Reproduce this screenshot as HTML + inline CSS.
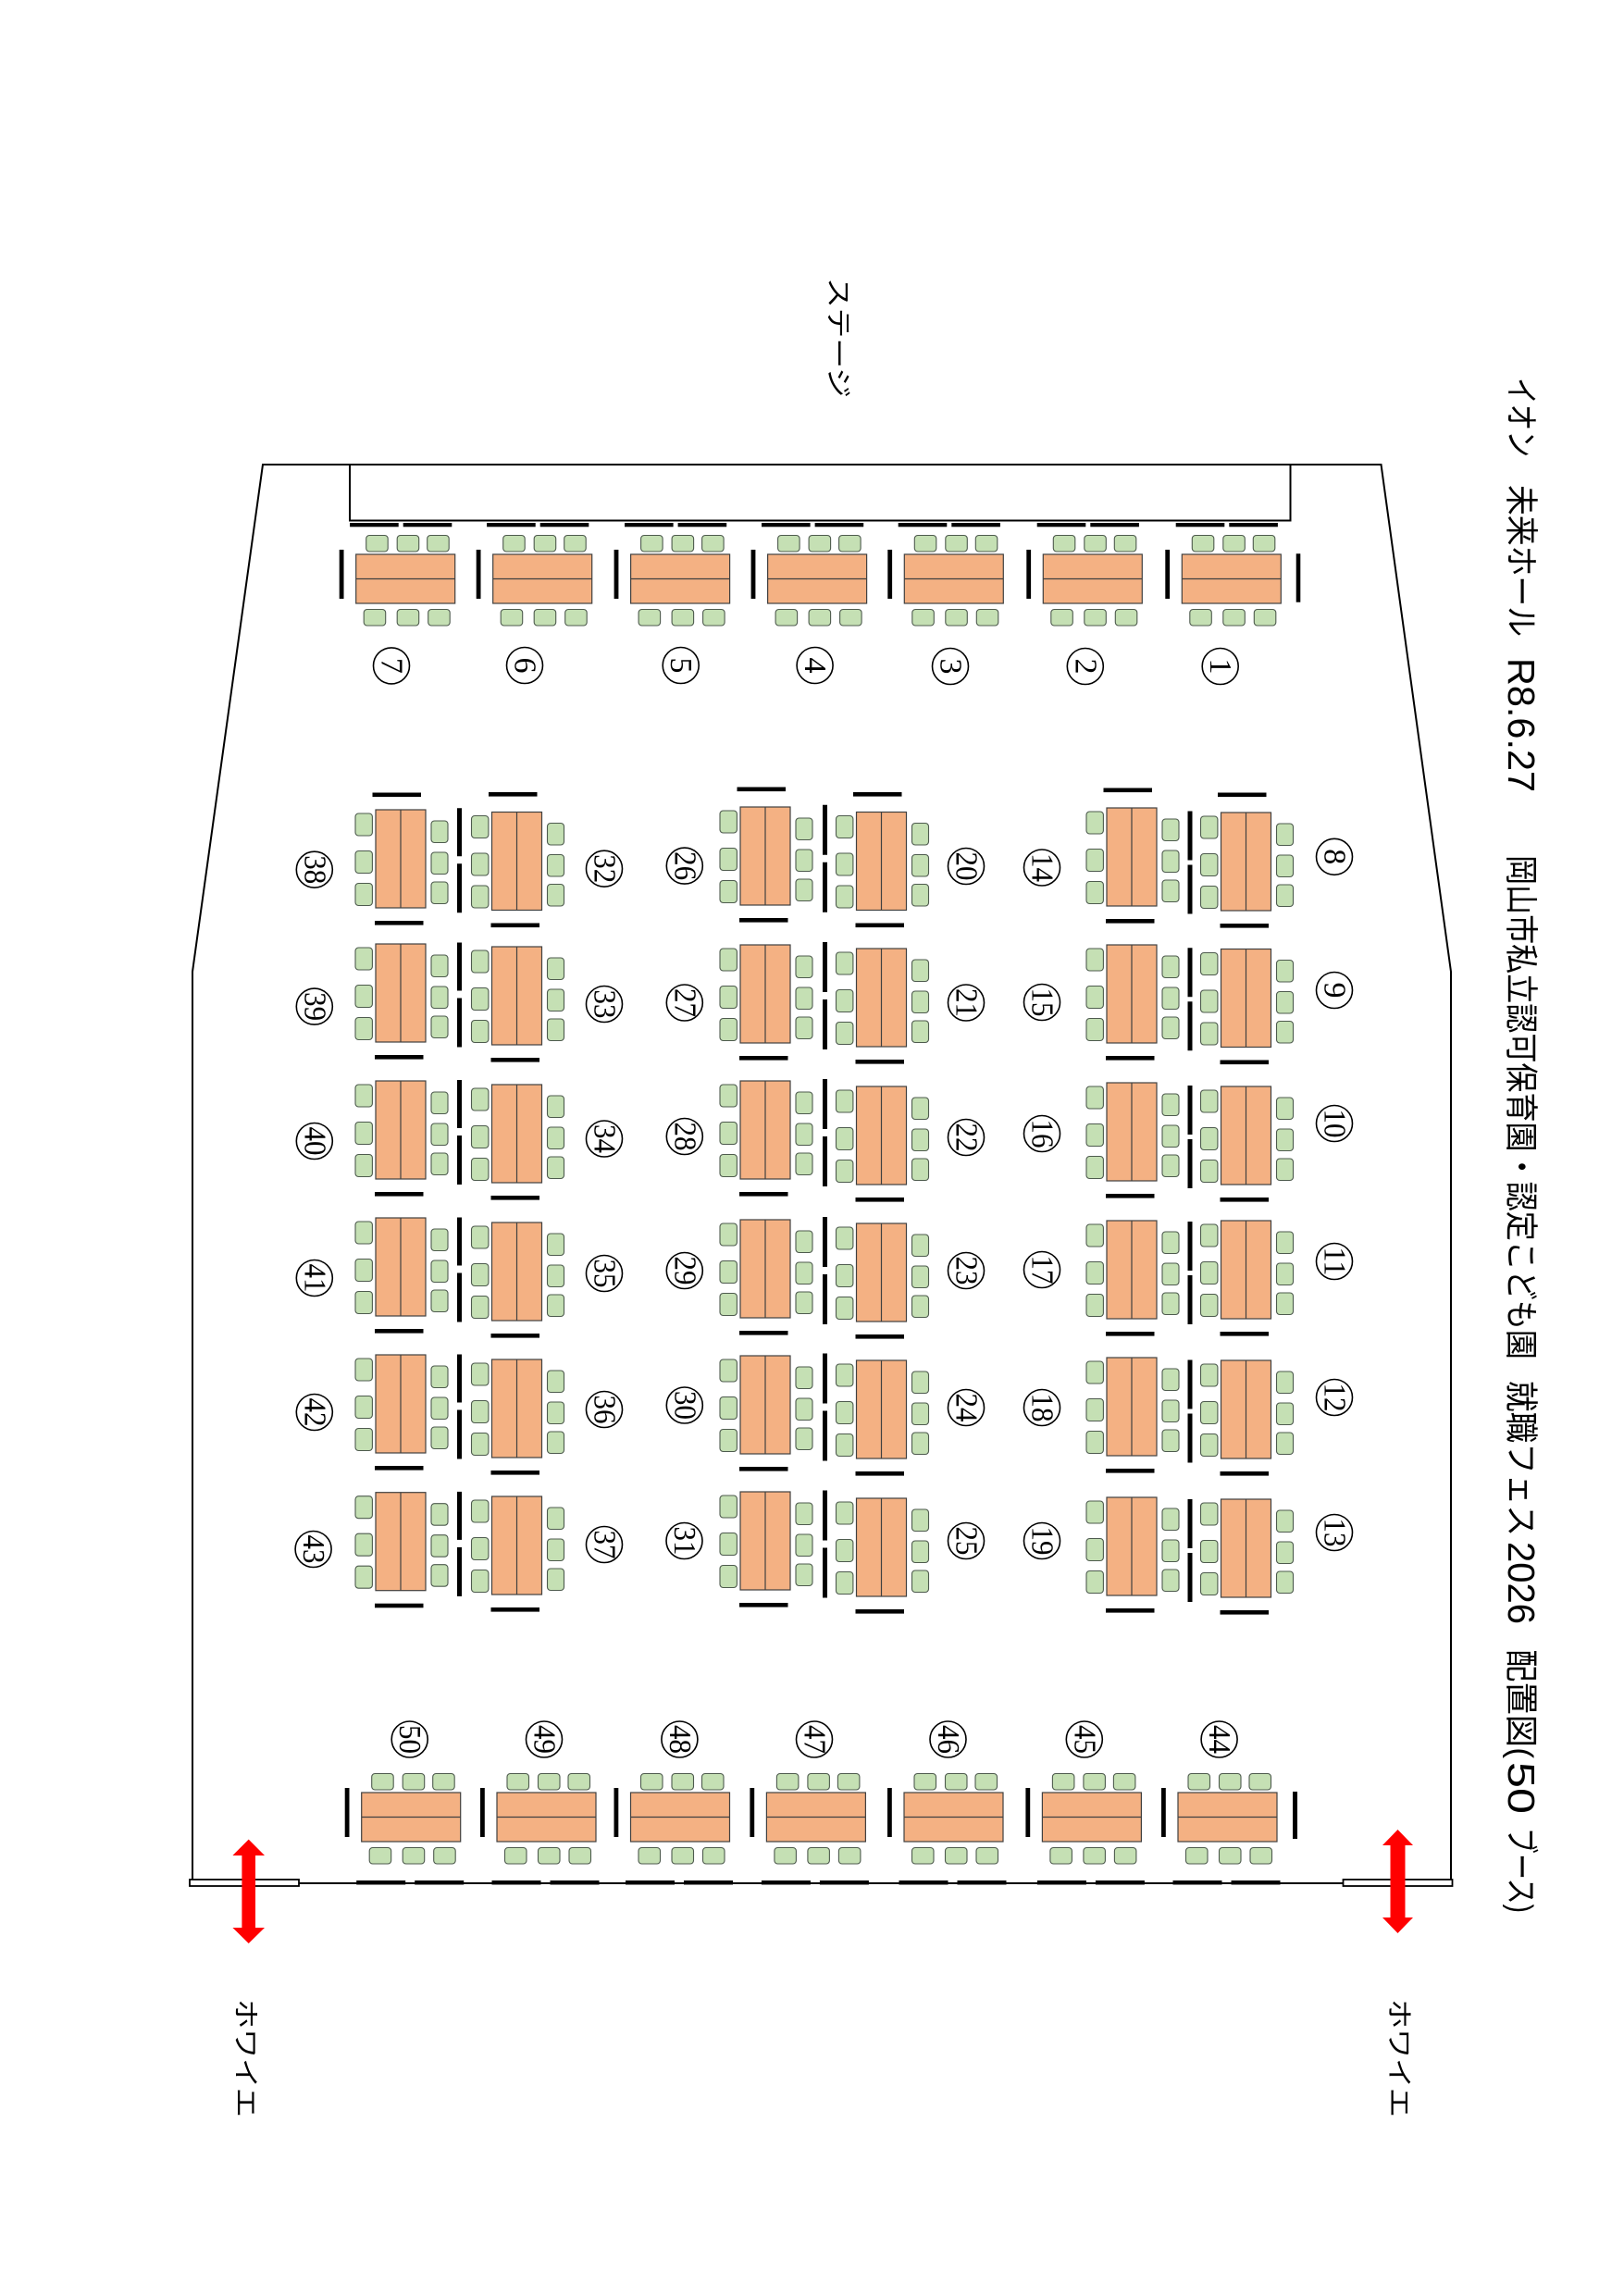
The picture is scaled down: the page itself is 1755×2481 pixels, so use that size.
<!DOCTYPE html>
<html>
<head>
<meta charset="utf-8">
<style>
html,body{margin:0;padding:0;background:#fff;}
svg{display:block;}
.t{fill:#f4b183;stroke:#404040;stroke-width:1.2;}
.d{stroke:#404040;stroke-width:1.2;}
.c{fill:#c5e0b4;stroke:#4e5b4e;stroke-width:1.1;}
.w{fill:none;stroke:#000;stroke-width:2;}
.cn{fill:#fff;stroke:#000;stroke-width:1.6;}
.nt{font-family:"Liberation Serif",serif;font-size:34px;text-anchor:middle;dominant-baseline:central;fill:#000;}
.tt{font-family:"Liberation Sans","Noto Sans CJK JP",sans-serif;font-size:36px;dominant-baseline:central;fill:#000;}
.td{font-family:"Liberation Sans","Noto Sans CJK JP",sans-serif;font-size:41px;dominant-baseline:central;fill:#000;}
.lb{font-family:"Liberation Sans","Noto Sans CJK JP",sans-serif;font-size:28px;dominant-baseline:central;fill:#000;}
</style>
</head>
<body>
<svg width="1755" height="2481" viewBox="0 0 1755 2481" xmlns="http://www.w3.org/2000/svg">
<defs>
<g id="hb">
<rect class="t" x="0" y="0" width="107" height="53"/>
<line class="d" x1="0" y1="26.5" x2="107" y2="26.5"/>
<rect class="c" x="11" y="-20.5" width="23.5" height="17.5" rx="3.5"/>
<rect class="c" x="44.5" y="-20.5" width="23.5" height="17.5" rx="3.5"/>
<rect class="c" x="77" y="-20.5" width="23.5" height="17.5" rx="3.5"/>
<rect class="c" x="8.5" y="59.5" width="23.5" height="17.5" rx="3.5"/>
<rect class="c" x="44.5" y="59.5" width="23.5" height="17.5" rx="3.5"/>
<rect class="c" x="78" y="59.5" width="23.5" height="17.5" rx="3.5"/>
<rect x="-18" y="-5" width="4.8" height="53" fill="#000"/>
</g>
<g id="vb">
<rect class="t" x="0" y="0" width="54" height="106"/>
<line class="d" x1="27" y1="0" x2="27" y2="106"/>
<rect class="c" x="-22" y="4" width="18.4" height="24" rx="3.5"/>
<rect class="c" x="-22" y="44.5" width="18.4" height="24" rx="3.5"/>
<rect class="c" x="-22" y="79.5" width="18.4" height="24" rx="3.5"/>
<rect class="c" x="60" y="12" width="18" height="23.5" rx="3.5"/>
<rect class="c" x="60" y="46" width="18" height="23.5" rx="3.5"/>
<rect class="c" x="60" y="78" width="18" height="23.5" rx="3.5"/>
<rect x="-1" y="120" width="52.5" height="4.6" fill="#000"/>
</g>
</defs>

<!-- Hall outline -->
<polyline class="w" points="208,2035 208,1050 284,502 1492.5,502 1568,1050 1568,2035 208,2035"/>
<!-- Stage -->
<polyline class="w" points="378,502 378,562.5 1394.5,562.5 1394.5,502"/>

<!-- Doors -->
<rect x="205" y="2031" width="118" height="7" fill="#fff" stroke="#000" stroke-width="1.8"/>
<rect x="1451.5" y="2031" width="118" height="7" fill="#fff" stroke="#000" stroke-width="1.8"/>

<!-- Arrows -->
<polygon fill="#ff0000" points="1510.5,1977 1527,1994 1518.5,1994 1518.5,2072 1527,2072 1510.5,2089 1494,2072 1502.5,2072 1502.5,1994 1494,1994"/>
<polygon fill="#ff0000" points="268.7,1987.6 286,2005 276,2005 276,2083 286,2083 268.7,2100 251.4,2083 261.4,2083 261.4,2005 251.4,2005"/>

<!-- Top row booths 1-7 -->
<use href="#hb" x="1277.3" y="599"/>
<use href="#hb" x="1127.3" y="599"/>
<use href="#hb" x="977.3" y="599"/>
<use href="#hb" x="829.6" y="599"/>
<use href="#hb" x="681.6" y="599"/>
<use href="#hb" x="532.7" y="599"/>
<use href="#hb" x="384.7" y="599"/>
<rect x="1400.7" y="598.3" width="4.6" height="52.4" fill="#000"/>
<g fill="#000">
<rect x="1270.7" y="565" width="52.6" height="4.3"/><rect x="1328.3" y="565" width="52.6" height="4.3"/>
<rect x="1120.7" y="565" width="52.6" height="4.3"/><rect x="1178.3" y="565" width="52.6" height="4.3"/>
<rect x="970.7" y="565" width="52.6" height="4.3"/><rect x="1028.3" y="565" width="52.6" height="4.3"/>
<rect x="823" y="565" width="52.6" height="4.3"/><rect x="880.6" y="565" width="52.6" height="4.3"/>
<rect x="675" y="565" width="52.6" height="4.3"/><rect x="732.6" y="565" width="52.6" height="4.3"/>
<rect x="526.1" y="565" width="52.6" height="4.3"/><rect x="583.7" y="565" width="52.6" height="4.3"/>
<rect x="378.1" y="565" width="52.6" height="4.3"/><rect x="435.7" y="565" width="52.6" height="4.3"/>
</g>

<!-- Bottom row booths 44-50 -->
<use href="#hb" x="1273" y="1937"/>
<use href="#hb" x="1126.4" y="1937"/>
<use href="#hb" x="977" y="1937"/>
<use href="#hb" x="828.4" y="1937"/>
<use href="#hb" x="681.5" y="1937"/>
<use href="#hb" x="537" y="1937"/>
<use href="#hb" x="390.7" y="1937"/>
<rect x="1397" y="1936" width="5" height="51" fill="#000"/>
<g fill="#000">
<rect x="1267.5" y="2032" width="53" height="4.5"/><rect x="1330.5" y="2032" width="53" height="4.5"/>
<rect x="1120.9" y="2032" width="53" height="4.5"/><rect x="1183.9" y="2032" width="53" height="4.5"/>
<rect x="971.5" y="2032" width="53" height="4.5"/><rect x="1034.5" y="2032" width="53" height="4.5"/>
<rect x="822.9" y="2032" width="53" height="4.5"/><rect x="885.9" y="2032" width="53" height="4.5"/>
<rect x="676" y="2032" width="53" height="4.5"/><rect x="739" y="2032" width="53" height="4.5"/>
<rect x="531.5" y="2032" width="53" height="4.5"/><rect x="594.5" y="2032" width="53" height="4.5"/>
<rect x="385.2" y="2032" width="53" height="4.5"/><rect x="448.2" y="2032" width="53" height="4.5"/>
</g>

<!-- Middle booths -->
<use href="#vb" x="1319.5" y="878"/>
<use href="#vb" x="1319.5" y="1025.5"/>
<use href="#vb" x="1319.5" y="1174"/>
<use href="#vb" x="1319.5" y="1319"/>
<use href="#vb" x="1319.5" y="1470"/>
<use href="#vb" x="1319.5" y="1620"/>

<use href="#vb" x="1196" y="873"/>
<use href="#vb" x="1196" y="1021"/>
<use href="#vb" x="1196" y="1170"/>
<use href="#vb" x="1196" y="1319"/>
<use href="#vb" x="1196" y="1467"/>
<use href="#vb" x="1196" y="1618"/>

<use href="#vb" x="925.5" y="877.5"/>
<use href="#vb" x="925.5" y="1025"/>
<use href="#vb" x="925.5" y="1174"/>
<use href="#vb" x="925.5" y="1322"/>
<use href="#vb" x="925.5" y="1470"/>
<use href="#vb" x="925.5" y="1619"/>

<use href="#vb" x="800" y="872"/>
<use href="#vb" x="800" y="1021"/>
<use href="#vb" x="800" y="1168"/>
<use href="#vb" x="800" y="1318"/>
<use href="#vb" x="800" y="1465"/>
<use href="#vb" x="800" y="1612"/>

<use href="#vb" x="531.5" y="877.5"/>
<use href="#vb" x="531.5" y="1023"/>
<use href="#vb" x="531.5" y="1172"/>
<use href="#vb" x="531.5" y="1321"/>
<use href="#vb" x="531.5" y="1469"/>
<use href="#vb" x="531.5" y="1617"/>

<use href="#vb" x="406" y="875"/>
<use href="#vb" x="406" y="1020"/>
<use href="#vb" x="406" y="1168"/>
<use href="#vb" x="406" y="1316"/>
<use href="#vb" x="406" y="1464"/>
<use href="#vb" x="406" y="1612.7"/>

<!-- Top bars above first row of middle booths -->
<g fill="#000">
<rect x="1316" y="856.5" width="52.5" height="4.6"/>
<rect x="1192.5" y="851.5" width="52.5" height="4.6"/>
<rect x="922" y="856" width="52.5" height="4.6"/>
<rect x="796.5" y="850.5" width="52.5" height="4.6"/>
<rect x="528" y="856" width="52.5" height="4.6"/>
<rect x="402.5" y="856.5" width="52.5" height="4.6"/>
</g>

<!-- Divider bars between paired columns -->
<g fill="#000">
<rect x="494" y="873.25" width="5" height="52"/><rect x="494" y="933.25" width="5" height="53"/>
<rect x="494" y="1018.5" width="5" height="52"/><rect x="494" y="1078.5" width="5" height="53"/>
<rect x="494" y="1167" width="5" height="52"/><rect x="494" y="1227" width="5" height="53"/>
<rect x="494" y="1315.5" width="5" height="52"/><rect x="494" y="1375.5" width="5" height="53"/>
<rect x="494" y="1463.5" width="5" height="52"/><rect x="494" y="1523.5" width="5" height="53"/>
<rect x="494" y="1611.9" width="5" height="52"/><rect x="494" y="1671.9" width="5" height="53"/>

<rect x="889" y="869.75" width="5" height="54"/><rect x="889" y="931.75" width="5" height="54"/>
<rect x="889" y="1018" width="5" height="54"/><rect x="889" y="1080" width="5" height="54"/>
<rect x="889" y="1166" width="5" height="54"/><rect x="889" y="1228" width="5" height="54"/>
<rect x="889" y="1315" width="5" height="54"/><rect x="889" y="1377" width="5" height="54"/>
<rect x="889" y="1462.5" width="5" height="54"/><rect x="889" y="1524.5" width="5" height="54"/>
<rect x="889" y="1610.5" width="5" height="54"/><rect x="889" y="1672.5" width="5" height="54"/>

<rect x="1283.5" y="876.5" width="5" height="53"/><rect x="1283.5" y="934.5" width="5" height="53"/>
<rect x="1283.5" y="1024.25" width="5" height="53"/><rect x="1283.5" y="1082.25" width="5" height="53"/>
<rect x="1283.5" y="1173" width="5" height="53"/><rect x="1283.5" y="1231" width="5" height="53"/>
<rect x="1283.5" y="1320" width="5" height="53"/><rect x="1283.5" y="1378" width="5" height="53"/>
<rect x="1283.5" y="1469.5" width="5" height="53"/><rect x="1283.5" y="1527.5" width="5" height="53"/>
<rect x="1283.5" y="1620" width="5" height="53"/><rect x="1283.5" y="1678" width="5" height="53"/>
</g>

<!-- Number circles -->
<g>
<circle class="cn" cx="1318.7" cy="720" r="19.5"/><text class="nt" x="1318.7" y="720" transform="rotate(90 1318.7 720)">1</text>
<circle class="cn" cx="1172.8" cy="720" r="19.5"/><text class="nt" x="1172.8" y="720" transform="rotate(90 1172.8 720)">2</text>
<circle class="cn" cx="1027" cy="720" r="19.5"/><text class="nt" x="1027" y="720" transform="rotate(90 1027 720)">3</text>
<circle class="cn" cx="880.6" cy="719" r="19.5"/><text class="nt" x="880.6" y="719" transform="rotate(90 880.6 719)">4</text>
<circle class="cn" cx="735.7" cy="719" r="19.5"/><text class="nt" x="735.7" y="719" transform="rotate(90 735.7 719)">5</text>
<circle class="cn" cx="567" cy="719" r="19.5"/><text class="nt" x="567" y="719" transform="rotate(90 567 719)">6</text>
<circle class="cn" cx="423" cy="719.4" r="19.5"/><text class="nt" x="423" y="719.4" transform="rotate(90 423 719.4)">7</text>

<circle class="cn" cx="1442" cy="925.8" r="19.5"/><text class="nt" x="1442" y="925.8" transform="rotate(90 1442 925.8)">8</text>
<circle class="cn" cx="1442" cy="1070" r="19.5"/><text class="nt" x="1442" y="1070" transform="rotate(90 1442 1070)">9</text>
<circle class="cn" cx="1442" cy="1214" r="19.5"/><text class="nt" x="1442" y="1214" transform="rotate(90 1442 1214)" textLength="31" lengthAdjust="spacingAndGlyphs">10</text>
<circle class="cn" cx="1442" cy="1363" r="19.5"/><text class="nt" x="1442" y="1363" transform="rotate(90 1442 1363)" textLength="31" lengthAdjust="spacingAndGlyphs">11</text>
<circle class="cn" cx="1442" cy="1510" r="19.5"/><text class="nt" x="1442" y="1510" transform="rotate(90 1442 1510)" textLength="31" lengthAdjust="spacingAndGlyphs">12</text>
<circle class="cn" cx="1442" cy="1656" r="19.5"/><text class="nt" x="1442" y="1656" transform="rotate(90 1442 1656)" textLength="31" lengthAdjust="spacingAndGlyphs">13</text>

<circle class="cn" cx="1126" cy="937.5" r="19.5"/><text class="nt" x="1126" y="937.5" transform="rotate(90 1126 937.5)" textLength="31" lengthAdjust="spacingAndGlyphs">14</text>
<circle class="cn" cx="1126" cy="1083" r="19.5"/><text class="nt" x="1126" y="1083" transform="rotate(90 1126 1083)" textLength="31" lengthAdjust="spacingAndGlyphs">15</text>
<circle class="cn" cx="1126" cy="1225" r="19.5"/><text class="nt" x="1126" y="1225" transform="rotate(90 1126 1225)" textLength="31" lengthAdjust="spacingAndGlyphs">16</text>
<circle class="cn" cx="1126" cy="1372" r="19.5"/><text class="nt" x="1126" y="1372" transform="rotate(90 1126 1372)" textLength="31" lengthAdjust="spacingAndGlyphs">17</text>
<circle class="cn" cx="1126" cy="1521" r="19.5"/><text class="nt" x="1126" y="1521" transform="rotate(90 1126 1521)" textLength="31" lengthAdjust="spacingAndGlyphs">18</text>
<circle class="cn" cx="1126" cy="1665" r="19.5"/><text class="nt" x="1126" y="1665" transform="rotate(90 1126 1665)" textLength="31" lengthAdjust="spacingAndGlyphs">19</text>

<circle class="cn" cx="1044" cy="936" r="19.5"/><text class="nt" x="1044" y="936" transform="rotate(90 1044 936)" textLength="31" lengthAdjust="spacingAndGlyphs">20</text>
<circle class="cn" cx="1044" cy="1083.5" r="19.5"/><text class="nt" x="1044" y="1083.5" transform="rotate(90 1044 1083.5)" textLength="31" lengthAdjust="spacingAndGlyphs">21</text>
<circle class="cn" cx="1044" cy="1229" r="19.5"/><text class="nt" x="1044" y="1229" transform="rotate(90 1044 1229)" textLength="31" lengthAdjust="spacingAndGlyphs">22</text>
<circle class="cn" cx="1044" cy="1373" r="19.5"/><text class="nt" x="1044" y="1373" transform="rotate(90 1044 1373)" textLength="31" lengthAdjust="spacingAndGlyphs">23</text>
<circle class="cn" cx="1044" cy="1521" r="19.5"/><text class="nt" x="1044" y="1521" transform="rotate(90 1044 1521)" textLength="31" lengthAdjust="spacingAndGlyphs">24</text>
<circle class="cn" cx="1044" cy="1665" r="19.5"/><text class="nt" x="1044" y="1665" transform="rotate(90 1044 1665)" textLength="31" lengthAdjust="spacingAndGlyphs">25</text>

<circle class="cn" cx="739.8" cy="935.6" r="19.5"/><text class="nt" x="739.8" y="935.6" transform="rotate(90 739.8 935.6)" textLength="31" lengthAdjust="spacingAndGlyphs">26</text>
<circle class="cn" cx="739.8" cy="1083.5" r="19.5"/><text class="nt" x="739.8" y="1083.5" transform="rotate(90 739.8 1083.5)" textLength="31" lengthAdjust="spacingAndGlyphs">27</text>
<circle class="cn" cx="739.8" cy="1228" r="19.5"/><text class="nt" x="739.8" y="1228" transform="rotate(90 739.8 1228)" textLength="31" lengthAdjust="spacingAndGlyphs">28</text>
<circle class="cn" cx="739.8" cy="1373" r="19.5"/><text class="nt" x="739.8" y="1373" transform="rotate(90 739.8 1373)" textLength="31" lengthAdjust="spacingAndGlyphs">29</text>
<circle class="cn" cx="739.8" cy="1518.5" r="19.5"/><text class="nt" x="739.8" y="1518.5" transform="rotate(90 739.8 1518.5)" textLength="31" lengthAdjust="spacingAndGlyphs">30</text>
<circle class="cn" cx="739.5" cy="1665" r="19.5"/><text class="nt" x="739.5" y="1665" transform="rotate(90 739.5 1665)" textLength="31" lengthAdjust="spacingAndGlyphs">31</text>

<circle class="cn" cx="653" cy="938.7" r="19.5"/><text class="nt" x="653" y="938.7" transform="rotate(90 653 938.7)" textLength="31" lengthAdjust="spacingAndGlyphs">32</text>
<circle class="cn" cx="653" cy="1085" r="19.5"/><text class="nt" x="653" y="1085" transform="rotate(90 653 1085)" textLength="31" lengthAdjust="spacingAndGlyphs">33</text>
<circle class="cn" cx="653" cy="1230.5" r="19.5"/><text class="nt" x="653" y="1230.5" transform="rotate(90 653 1230.5)" textLength="31" lengthAdjust="spacingAndGlyphs">34</text>
<circle class="cn" cx="653" cy="1376" r="19.5"/><text class="nt" x="653" y="1376" transform="rotate(90 653 1376)" textLength="31" lengthAdjust="spacingAndGlyphs">35</text>
<circle class="cn" cx="653" cy="1523" r="19.5"/><text class="nt" x="653" y="1523" transform="rotate(90 653 1523)" textLength="31" lengthAdjust="spacingAndGlyphs">36</text>
<circle class="cn" cx="653" cy="1669" r="19.5"/><text class="nt" x="653" y="1669" transform="rotate(90 653 1669)" textLength="31" lengthAdjust="spacingAndGlyphs">37</text>

<circle class="cn" cx="339.8" cy="939.7" r="19.5"/><text class="nt" x="339.8" y="939.7" transform="rotate(90 339.8 939.7)" textLength="31" lengthAdjust="spacingAndGlyphs">38</text>
<circle class="cn" cx="339.8" cy="1087.6" r="19.5"/><text class="nt" x="339.8" y="1087.6" transform="rotate(90 339.8 1087.6)" textLength="31" lengthAdjust="spacingAndGlyphs">39</text>
<circle class="cn" cx="339.8" cy="1233" r="19.5"/><text class="nt" x="339.8" y="1233" transform="rotate(90 339.8 1233)" textLength="31" lengthAdjust="spacingAndGlyphs">40</text>
<circle class="cn" cx="339.8" cy="1381" r="19.5"/><text class="nt" x="339.8" y="1381" transform="rotate(90 339.8 1381)" textLength="31" lengthAdjust="spacingAndGlyphs">41</text>
<circle class="cn" cx="339.8" cy="1526" r="19.5"/><text class="nt" x="339.8" y="1526" transform="rotate(90 339.8 1526)" textLength="31" lengthAdjust="spacingAndGlyphs">42</text>
<circle class="cn" cx="338.6" cy="1674" r="19.5"/><text class="nt" x="338.6" y="1674" transform="rotate(90 338.6 1674)" textLength="31" lengthAdjust="spacingAndGlyphs">43</text>

<circle class="cn" cx="1317.6" cy="1879.5" r="19.5"/><text class="nt" x="1317.6" y="1879.5" transform="rotate(90 1317.6 1879.5)" textLength="31" lengthAdjust="spacingAndGlyphs">44</text>
<circle class="cn" cx="1171.8" cy="1879.5" r="19.5"/><text class="nt" x="1171.8" y="1879.5" transform="rotate(90 1171.8 1879.5)" textLength="31" lengthAdjust="spacingAndGlyphs">45</text>
<circle class="cn" cx="1024.5" cy="1879.5" r="19.5"/><text class="nt" x="1024.5" y="1879.5" transform="rotate(90 1024.5 1879.5)" textLength="31" lengthAdjust="spacingAndGlyphs">46</text>
<circle class="cn" cx="880" cy="1879.5" r="19.5"/><text class="nt" x="880" y="1879.5" transform="rotate(90 880 1879.5)" textLength="31" lengthAdjust="spacingAndGlyphs">47</text>
<circle class="cn" cx="734.4" cy="1879.5" r="19.5"/><text class="nt" x="734.4" y="1879.5" transform="rotate(90 734.4 1879.5)" textLength="31" lengthAdjust="spacingAndGlyphs">48</text>
<circle class="cn" cx="588" cy="1879.5" r="19.5"/><text class="nt" x="588" y="1879.5" transform="rotate(90 588 1879.5)" textLength="31" lengthAdjust="spacingAndGlyphs">49</text>
<circle class="cn" cx="442.7" cy="1879.5" r="19.5"/><text class="nt" x="442.7" y="1879.5" transform="rotate(90 442.7 1879.5)" textLength="31" lengthAdjust="spacingAndGlyphs">50</text>
</g>

<!-- Title (rotated) -->
<text class="tt" x="408" y="-1644" transform="rotate(90)" textLength="86" lengthAdjust="spacingAndGlyphs">イオン</text>
<text class="tt" x="524" y="-1644" transform="rotate(90)" textLength="164" lengthAdjust="spacingAndGlyphs">未来ホール</text>
<text class="td" x="711" y="-1644" transform="rotate(90)" textLength="145" lengthAdjust="spacingAndGlyphs">R8.6.27</text>
<text class="tt" x="924" y="-1644" transform="rotate(90)" textLength="545" lengthAdjust="spacingAndGlyphs">岡山市私立認可保育園・認定こども園</text>
<text class="tt" x="1492" y="-1644" transform="rotate(90)" textLength="168" lengthAdjust="spacingAndGlyphs">就職フェス</text>
<text class="td" x="1666" y="-1644" transform="rotate(90)" textLength="89" lengthAdjust="spacingAndGlyphs">2026</text>
<text class="tt" x="1782" y="-1644" transform="rotate(90)" textLength="118" lengthAdjust="spacingAndGlyphs">配置図(</text>
<text class="td" x="1904" y="-1644" transform="rotate(90)" textLength="56" lengthAdjust="spacingAndGlyphs">50</text>
<text class="tt" x="1975" y="-1644" transform="rotate(90)" textLength="92" lengthAdjust="spacingAndGlyphs">ブース)</text>

<!-- Labels -->
<text class="lb" x="300" y="-906" transform="rotate(90)" textLength="130" lengthAdjust="spacingAndGlyphs">ステージ</text>
<text class="lb" x="2160" y="-1512" transform="rotate(90)" textLength="128" lengthAdjust="spacingAndGlyphs">ホワイエ</text>
<text class="lb" x="2160" y="-265.5" transform="rotate(90)" textLength="128" lengthAdjust="spacingAndGlyphs">ホワイエ</text>
</svg>
</body>
</html>
